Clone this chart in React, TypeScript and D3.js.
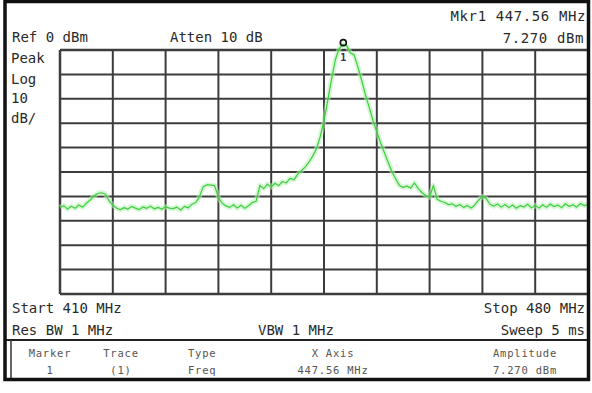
import React from "react";
import * as d3 from "d3";

const START_MHZ = 410;
const STOP_MHZ = 480;
const STEP_MHZ = 0.5;
const REF_DBM = 0;
const DB_PER_DIV = 10;
const DIVS = 10;

// Trace amplitudes (dBm), one per sweep point from 410 to 480 MHz in 0.5 MHz steps
const traceDbm = [
  -64.5, -63.8, -65.2, -64.0, -64.9, -63.5, -64.4, -62.8, -61.5, -59.8,
  -58.8, -58.5, -59.0, -61.8, -63.6, -64.8, -65.5, -64.6, -65.2, -64.1,
  -64.8, -65.4, -64.3, -64.9, -64.0, -65.1, -64.5, -65.3, -64.2, -64.8,
  -65.0, -64.4, -65.6, -64.1, -64.7, -63.2, -62.5, -60.0, -56.0, -55.2,
  -55.4, -55.6, -60.5, -62.8, -63.9, -64.5, -63.4, -64.8, -63.6, -64.9,
  -63.8, -62.5, -62.0, -55.5, -56.8, -55.0, -56.2, -54.6, -55.6, -53.9,
  -54.5, -52.6, -53.2, -51.0, -49.5, -48.0, -46.0, -43.5, -40.5, -35.5,
  -29.0, -20.5, -12.0, -4.0, 0.5, 2.2, 1.8, -1.2, -2.0, -7.0,
  -12.5, -18.5, -23.5, -29.0, -33.5, -38.0, -42.0, -46.0, -49.8, -52.8,
  -55.5, -56.3, -55.8, -56.6, -54.5, -56.8, -58.5, -59.6, -60.4, -55.5,
  -61.2, -62.0, -62.5, -63.4, -63.0, -64.1, -63.3, -64.5, -63.7, -64.8,
  -63.5, -61.5, -60.0, -60.8, -63.2, -64.0, -63.1, -64.4, -63.3, -64.6,
  -63.5, -64.9, -63.8, -64.3, -63.2, -64.7, -63.6, -64.8, -63.4, -64.5,
  -63.1, -64.2, -63.5, -64.6, -63.0, -64.1, -63.4, -64.4, -62.9, -63.8,
  -63.3,
];

const markerFreqMHz = 447.56;
const markerLabel = "1";

const leftLabels = ["Peak", "Log", "10", "dB/"];
const tableHeaders = ["Marker", "Trace", "Type", "X Axis", "Amplitude"];
const tableValues = ["1", "(1)", "Freq", "447.56 MHz", "7.270 dBm"];

const W = 592;
const H = 393;
const gx0 = 60, gx1 = 588, gy0 = 50, gy1 = 294;

export default function App() {
  const x = d3.scaleLinear().domain([START_MHZ, STOP_MHZ]).range([gx0, gx1]);
  const y = d3
    .scaleLinear()
    .domain([REF_DBM, REF_DBM - DB_PER_DIV * DIVS])
    .range([gy0, gy1]);

  const freqs = traceDbm.map((_, i) => START_MHZ + i * STEP_MHZ);
  const pts: [number, number][] = traceDbm.map((v, i) => [freqs[i], v]);
  const line = d3
    .line<[number, number]>()
    .x((d) => x(d[0]))
    .y((d) => y(d[1]));
  const path = line(pts) || "";

  const xTicks = d3.range(0, DIVS + 1).map((i) => START_MHZ + (i * (STOP_MHZ - START_MHZ)) / DIVS);
  const yTicks = d3.range(0, DIVS + 1).map((i) => REF_DBM - i * DB_PER_DIV);

  const peakDb = d3.max(traceDbm) as number;
  const mx = x(markerFreqMHz);
  const my = y(peakDb) - 2;

  const font = "'DejaVu Sans Mono', 'Liberation Mono', monospace";
  const txt = "#2a2a2a";
  const tblCx = [50, 121, 188, 333, 525];
  const tblAnchor = ["middle", "middle", "start", "middle", "middle"];

  return (
    <svg
      width={W}
      height={H}
      style={{ position: "absolute", left: 0, top: 0, background: "#fff" }}
      fontFamily={font}
    >
      <rect x={0} y={0} width={W} height={H} fill="#fff" />
      {/* grid */}
      <g>
        {yTicks.map((t, i) => (
          <line
            key={"h" + i}
            x1={gx0}
            x2={gx1}
            y1={y(t)}
            y2={y(t)}
            stroke="#3c3c3c"
            strokeWidth={i === 0 || i === DIVS ? 2.5 : 2}
          />
        ))}
        {xTicks.map((t, i) => (
          <line
            key={"v" + i}
            x1={x(t)}
            x2={x(t)}
            y1={gy0}
            y2={gy1}
            stroke="#3c3c3c"
            strokeWidth={i === 0 ? 2.5 : 2}
          />
        ))}
      </g>
      {/* trace */}
      <path d={path} fill="none" stroke="#b5efb5" strokeWidth={5} strokeOpacity={0.55} strokeLinejoin="round" />
      <path d={path} fill="none" stroke="#3ccf3c" strokeWidth={1.2} strokeLinejoin="round" />
      {/* marker */}
      <circle cx={mx} cy={my} r={3} fill="none" stroke="#111" strokeWidth={1.6} />
      <text x={mx} y={my + 18} fontSize={10} fontWeight="bold" textAnchor="middle" fill="#333">
        {markerLabel}
      </text>

      {/* header texts */}
      <text x={12} y={42} fontSize={14} fill={txt}>Ref 0 dBm</text>
      <text x={170} y={42} fontSize={14} fill={txt}>Atten 10 dB</text>
      <text x={586} y={21} fontSize={14} fill={txt} textAnchor="end" letterSpacing={0.6}>Mkr1 447.56 MHz</text>
      <text x={584} y={43} fontSize={14} fill={txt} textAnchor="end" letterSpacing={0.6}>7.270 dBm</text>
      {leftLabels.map((s, i) => (
        <text key={s} x={11} y={[63, 84, 103, 123][i]} fontSize={14} fill={txt}>
          {s}
        </text>
      ))}

      {/* footer texts */}
      <text x={12} y={313} fontSize={14} fill={txt}>Start 410 MHz</text>
      <text x={585} y={313} fontSize={14} fill={txt} textAnchor="end">Stop 480 MHz</text>
      <text x={12} y={335} fontSize={14} fill={txt}>Res BW 1 MHz</text>
      <text x={258} y={335} fontSize={14} fill={txt}>VBW 1 MHz</text>
      <text x={585} y={335} fontSize={14} fill={txt} textAnchor="end">Sweep 5 ms</text>

      {/* table */}
      <line x1={5} x2={589} y1={340} y2={340} stroke="#222" strokeWidth={2} />
      <line x1={11} x2={11} y1={340} y2={379} stroke="#333" strokeWidth={1.5} />
      {tableHeaders.map((s, i) => (
        <text key={s} x={tblCx[i]} y={357} fontSize={10.5} fill="#555" textAnchor={tblAnchor[i] as any} letterSpacing={0.8}>
          {s}
        </text>
      ))}
      {tableValues.map((s, i) => (
        <text key={s} x={tblCx[i]} y={374} fontSize={10.5} fill="#555" textAnchor={tblAnchor[i] as any} letterSpacing={0.8}>
          {s}
        </text>
      ))}

      {/* outer frame */}
      <rect x={5} y={1.5} width={583.5} height={378} fill="none" stroke="#111" strokeWidth={3.5} />
    </svg>
  );
}
